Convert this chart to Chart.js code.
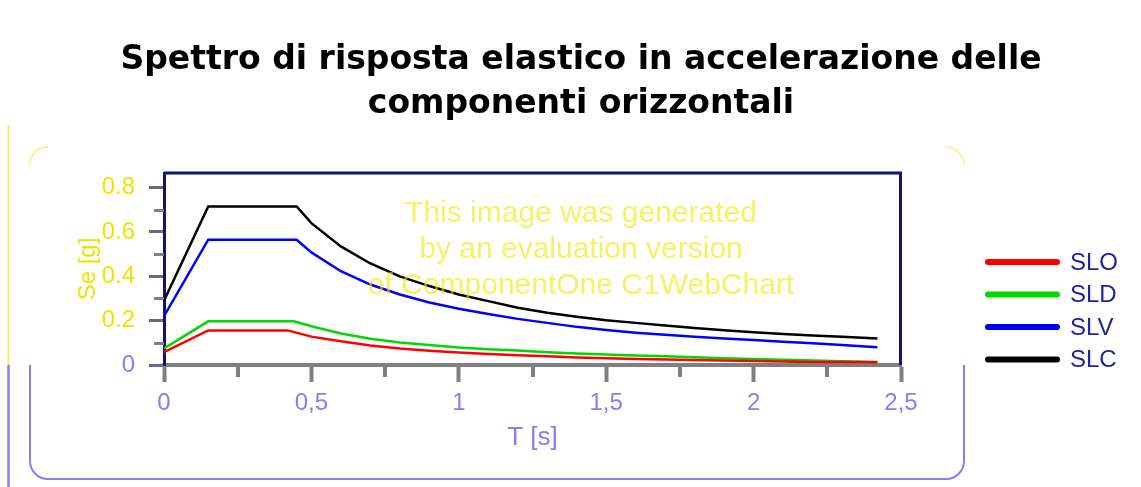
<!DOCTYPE html>
<html>
<head>
<meta charset="utf-8">
<title>Spettro di risposta elastico</title>
<script src="https://cdn.jsdelivr.net/npm/chart.js@4.4.1/dist/chart.umd.min.js"></script>
<style>
  html, body { margin: 0; padding: 0; background: #ffffff; overflow: hidden; }
  #wrap { width: 1141px; height: 487px; }
  canvas { display: block; }
</style>
</head>
<body>
<div id="wrap"><canvas id="chart" width="1141" height="487"></canvas></div>
<script>
// ---- data: elastic response spectra (horizontal components) ----
const titleLines = ['Spettro di risposta elastico in accelerazione delle', 'componenti orizzontali'];
const watermarkLines = ['This image was generated', 'by an evaluation version', 'of ComponentOne C1WebChart'];
const seriesNames = ['SLO', 'SLD', 'SLV', 'SLC'];
const seriesColors = ['#ff0000', '#00d800', '#0000ff', '#000000'];

// periods T [s] after the constant-acceleration branch (shared by all series)
const periodsTail = [0.5, 0.6, 0.7, 0.8, 0.9, 1.0, 1.1, 1.2, 1.3, 1.4, 1.5, 1.6, 1.7, 1.8, 1.9, 2.0, 2.1, 2.2, 2.3, 2.42];

// T = 0, TB, TC for each limit state
const cornersSLO = [0, 0.15, 0.42];
const cornersSLD = [0, 0.15, 0.44];
const cornersSLV = [0, 0.15, 0.45];
const cornersSLC = [0, 0.15, 0.45];

// Se [g] at the corner periods followed by the tail periods
const seSLO = [0.058, 0.156, 0.156, 0.128, 0.107, 0.088, 0.074, 0.064, 0.056, 0.050, 0.044, 0.040, 0.034, 0.030, 0.027, 0.025, 0.022, 0.020, 0.018, 0.016, 0.014, 0.013, 0.012];
const seSLD = [0.075, 0.197, 0.197, 0.175, 0.142, 0.118, 0.102, 0.090, 0.079, 0.071, 0.065, 0.058, 0.052, 0.047, 0.043, 0.039, 0.035, 0.030, 0.027, 0.024, 0.020, 0.017, 0.014];
const seSLV = [0.220, 0.565, 0.565, 0.508, 0.423, 0.363, 0.318, 0.282, 0.254, 0.230, 0.208, 0.190, 0.172, 0.158, 0.146, 0.136, 0.127, 0.120, 0.113, 0.105, 0.098, 0.090, 0.080];
const seSLC = [0.290, 0.715, 0.715, 0.640, 0.535, 0.458, 0.400, 0.356, 0.318, 0.288, 0.258, 0.236, 0.218, 0.202, 0.190, 0.178, 0.167, 0.157, 0.148, 0.140, 0.133, 0.127, 0.120];

// axis ranges and ticks
const xMin = 0, xMax = 2.5, xStep = 0.5, xMinorStep = 0.25;
const yMin = 0, yMax = 0.866, yStep = 0.2, yMinorStep = 0.1;

// ---- styling ----
const PURPLE = '#8a7cf2';
const YELLOW = '#eee400';
const NAVY = '#14146e';
const GREY = '#808080';
const SANS = '"Liberation Sans", Arial, sans-serif';

const toPoints = (ts, vs) => ts.map((t, i) => ({ x: t, y: vs[i] }));
const seriesData = [
  toPoints(cornersSLO.concat(periodsTail), seSLO),
  toPoints(cornersSLD.concat(periodsTail), seSLD),
  toPoints(cornersSLV.concat(periodsTail), seSLV),
  toPoints(cornersSLC.concat(periodsTail), seSLC)
];

// frame, title, minor ticks, plot border, legend and watermark
const decorations = {
  id: 'decorations',
  beforeDraw(chart) {
    const c = chart.ctx;
    const a = chart.chartArea;
    c.save();
    c.fillStyle = '#ffffff';
    c.fillRect(0, 0, chart.width, chart.height);

    // rounded panel: lower part in purple, upper corners faintly yellow
    const L = 30, R = 964, T = 147, B = 479, r = 18;
    c.lineWidth = 2;
    c.strokeStyle = PURPLE;
    c.beginPath();
    c.moveTo(L, a.bottom);
    c.lineTo(L, B - r);
    c.arcTo(L, B, L + r, B, r);
    c.lineTo(R - r, B);
    c.arcTo(R, B, R, B - r, r);
    c.lineTo(R, a.bottom);
    c.stroke();

    c.strokeStyle = 'rgba(238,228,0,0.5)';
    c.lineWidth = 1.5;
    c.beginPath(); c.moveTo(L, T + r); c.arcTo(L, T, L + r, T, r); c.stroke();
    c.beginPath(); c.moveTo(R - r, T); c.arcTo(R, T, R, T + r, r); c.stroke();

    // outer rule at the left edge
    c.lineWidth = 2;
    c.strokeStyle = 'rgba(238,228,0,0.6)';
    c.beginPath(); c.moveTo(8.5, 125); c.lineTo(8.5, a.bottom); c.stroke();
    c.lineWidth = 2.5;
    c.strokeStyle = PURPLE;
    c.beginPath(); c.moveTo(8.5, a.bottom); c.lineTo(8.5, chart.height); c.stroke();

    // title
    c.fillStyle = '#000000';
    c.font = 'bold 33px "DejaVu Sans", Verdana, sans-serif';
    c.textAlign = 'center';
    c.textBaseline = 'alphabetic';
    c.fillText(titleLines[0], 581, 69);
    c.fillText(titleLines[1], 581, 113);
    c.restore();
  },
  afterDraw(chart) {
    const c = chart.ctx;
    const a = chart.chartArea;
    const xs = chart.scales.x, ys = chart.scales.y;
    c.save();

    // minor ticks
    c.strokeStyle = GREY;
    c.lineWidth = 3;
    for (let v = yMin + yMinorStep; v < yMax; v += yStep) {
      const py = Math.round(ys.getPixelForValue(v)) + 0.5;
      c.beginPath(); c.moveTo(a.left - 10, py); c.lineTo(a.left, py); c.stroke();
    }
    c.lineWidth = 4;
    for (let v = xMin + xMinorStep; v < xMax; v += xStep) {
      const px = Math.round(xs.getPixelForValue(v));
      c.beginPath(); c.moveTo(px, a.bottom); c.lineTo(px, a.bottom + 12); c.stroke();
    }

    // plot border (top and right)
    c.strokeStyle = NAVY;
    c.lineWidth = 3;
    c.beginPath();
    c.moveTo(a.left, a.top);
    c.lineTo(a.right - 0.5, a.top);
    c.lineTo(a.right - 0.5, a.bottom);
    c.stroke();

    // legend
    const legendX = 988, legendW = 69, legendTop = 262, legendGap = 32.5;
    c.font = '24px ' + SANS;
    c.textAlign = 'left';
    c.textBaseline = 'middle';
    chart.data.datasets.forEach((ds, i) => {
      const y = legendTop + i * legendGap;
      c.strokeStyle = ds.borderColor;
      c.lineWidth = 6;
      c.lineCap = 'round';
      c.beginPath(); c.moveTo(legendX, y); c.lineTo(legendX + legendW, y); c.stroke();
      c.fillStyle = '#23239a';
      c.fillText(ds.label, 1070, y + 1);
    });

    // evaluation watermark
    c.fillStyle = 'rgba(240,232,0,0.6)';
    c.font = '30px ' + SANS;
    c.textAlign = 'center';
    c.textBaseline = 'alphabetic';
    watermarkLines.forEach((s, i) => c.fillText(s, 581, 221.5 + i * 36));
    c.restore();
  }
};

new Chart(document.getElementById('chart'), {
  type: 'line',
  data: {
    datasets: seriesNames.map((name, i) => ({
      label: name,
      data: seriesData[i],
      borderColor: seriesColors[i],
      backgroundColor: seriesColors[i],
      borderWidth: 2.5,
      pointRadius: 0,
      tension: 0,
      fill: false
    }))
  },
  options: {
    responsive: false,
    animation: false,
    devicePixelRatio: 1,
    layout: { padding: { left: 40, top: 173, right: 240, bottom: 0 } },
    plugins: {
      legend: { display: false },
      title: { display: false },
      tooltip: { enabled: false }
    },
    scales: {
      x: {
        type: 'linear',
        min: xMin,
        max: xMax,
        afterFit(scale) { scale.height = 122; },
        ticks: {
          stepSize: xStep,
          autoSkip: false,
          maxRotation: 0,
          padding: 7,
          color: PURPLE,
          font: { family: SANS, size: 24 },
          callback: v => (v === 0 ? '0' : String(Math.round(v * 10) / 10).replace('.', ','))
        },
        grid: { drawOnChartArea: false, tickLength: 17, tickWidth: 4, tickColor: GREY },
        border: { color: GREY, width: 4 },
        title: {
          display: true,
          text: 'T [s]',
          color: PURPLE,
          font: { family: SANS, size: 26 },
          padding: { top: 0, bottom: 34 }
        }
      },
      y: {
        type: 'linear',
        min: yMin,
        max: yMax,
        afterFit(scale) { scale.width = 124; },
        ticks: {
          stepSize: yStep,
          includeBounds: false,
          padding: 14,
          color: ctx => (ctx.tick && ctx.tick.value === 0 ? PURPLE : YELLOW),
          font: { family: SANS, size: 24 },
          callback: v => (v === 0 ? '0' : (Math.round(v * 10) / 10).toFixed(1))
        },
        grid: { drawOnChartArea: false, tickLength: 15, tickWidth: 3, tickColor: '#6a6a86' },
        border: { color: NAVY, width: 3 },
        title: {
          display: true,
          text: 'Se [g]',
          color: YELLOW,
          font: { family: SANS, size: 24 },
          padding: { top: 34, bottom: 0 }
        }
      }
    }
  },
  plugins: [decorations]
});
</script>
</body>
</html>
